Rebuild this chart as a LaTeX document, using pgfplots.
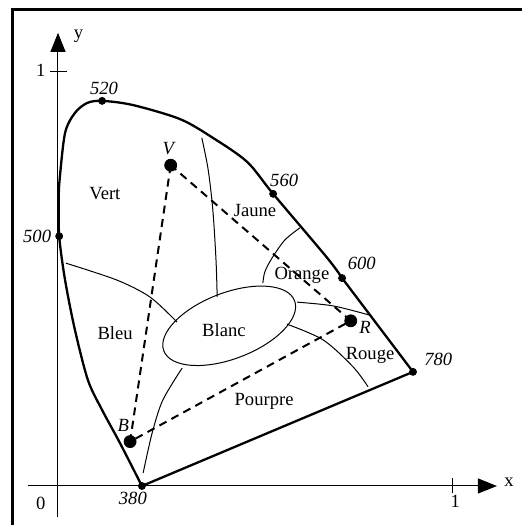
\documentclass[border=0pt]{standalone}
\usepackage{pgfplots}
\pgfplotsset{compat=1.18}
\usepackage{fontspec}
\setmainfont{Liberation Serif}
\usetikzlibrary{arrows.meta, shapes.geometric}

\begin{document}
\begin{tikzpicture}
\begin{axis}[
  scale only axis,
  width=260.5pt, height=262.5pt,
  xmin=-0.1472, xmax=1.1751,
  ymin=-0.0940, ymax=1.1711,
  hide axis, clip=false,
  font=\fontsize{9.3}{11}\selectfont,
]
  \coordinate (bl) at (rel axis cs:0,0);
  \coordinate (tr) at (rel axis cs:1,1);

  % frame (only left and top edges are inside the picture)
  \draw[line width=1.5pt] (axis cs:-0.1155,-0.2) -- (axis cs:-0.1155,1.1477) -- (axis cs:1.3,1.1477);

  % axes
  \draw[line width=0.5pt, -{Triangle[length=9.5pt, width=7.5pt]}]
    (axis cs:-0.076,0) -- (axis cs:1.114,0);
  \draw[line width=0.5pt, -{Triangle[length=9.5pt, width=7.5pt]}]
    (axis cs:0,-0.075) -- (axis cs:0,1.092);
  \draw[line width=0.5pt] (axis cs:1,-0.017) -- (axis cs:1,0.019);
  \draw[line width=0.5pt] (axis cs:-0.020,1) -- (axis cs:0.023,1);
  \node at (axis cs:-0.044,-0.042) {0};
  \node at (axis cs:1.008,-0.038) {1};
  \node at (axis cs:-0.044,1.001) {1};
  \node at (axis cs:1.145,0.010) {x};
  \node at (axis cs:0.052,1.083) {y};

  % spectral locus
  \addplot[line width=1.15pt, smooth, tension=0.5] coordinates {
    (0.213,0.000) (0.157,0.104) (0.112,0.183) (0.076,0.255) (0.043,0.376)
    (0.018,0.496) (0.003,0.602) (0.002,0.689) (0.004,0.737) (0.018,0.851)
    (0.043,0.899) (0.074,0.923) (0.112,0.928) (0.190,0.918) (0.310,0.884)
    (0.393,0.839) (0.480,0.781) (0.546,0.704) (0.683,0.550) (0.721,0.501)
  };
  \addplot[line width=1.15pt] coordinates {
    (0.721,0.501) (0.901,0.275) (0.213,0.000)
  };

  % region boundaries
  \addplot[line width=0.5pt, smooth] coordinates {
    (0.020,0.537) (0.150,0.496) (0.234,0.455) (0.302,0.395)
  };
  \addplot[line width=0.5pt, smooth] coordinates {
    (0.365,0.839) (0.381,0.763) (0.393,0.665) (0.401,0.545) (0.404,0.456)
  };
  \addplot[line width=0.5pt, smooth] coordinates {
    (0.614,0.622) (0.576,0.593) (0.543,0.549) (0.525,0.516) (0.520,0.489)
  };
  \addplot[line width=0.5pt, smooth] coordinates {
    (0.607,0.443) (0.698,0.434) (0.790,0.412)
  };
  \addplot[line width=0.5pt, smooth] coordinates {
    (0.581,0.390) (0.673,0.352) (0.749,0.287) (0.787,0.239)
  };
  \addplot[line width=0.5pt, smooth] coordinates {
    (0.315,0.284) (0.266,0.207) (0.239,0.128) (0.216,0.031)
  };

  % white region
  \node[draw, ellipse, line width=0.5pt, inner sep=0pt,
        minimum width=70pt, minimum height=33pt, rotate=21]
    at (axis cs:0.4345,0.386) {};

  % primaries triangle
  \addplot[line width=1pt, dash pattern=on 4pt off 2.8pt] coordinates {
    (0.286,0.773) (0.183,0.107) (0.743,0.398) (0.286,0.773)
  };

  % marks
  \addplot[only marks, mark=*, mark size=1.75pt] coordinates {
    (0.213,0.000) (0.003,0.602) (0.112,0.928) (0.546,0.704) (0.721,0.501) (0.901,0.275)
  };
  \addplot[only marks, mark=*, mark size=3pt] coordinates {
    (0.286,0.773) (0.183,0.107) (0.743,0.398)
  };

  % wavelength labels
  \node at (axis cs:0.117,0.959) {\itshape 520};
  \node at (axis cs:0.574,0.737) {\itshape 560};
  \node at (axis cs:0.771,0.537) {\itshape 600};
  \node at (axis cs:0.965,0.305) {\itshape 780};
  \node at (axis cs:-0.053,0.602) {\itshape 500};
  \node at (axis cs:0.190,-0.030) {\itshape 380};
  \node at (axis cs:0.280,0.812) {\itshape V};
  \node at (axis cs:0.166,0.145) {\itshape B};
  \node at (axis cs:0.779,0.381) {\itshape R};

  % region names
  \node at (axis cs:0.119,0.704) {Vert};
  \node at (axis cs:0.500,0.665) {Jaune};
  \node at (axis cs:0.619,0.508) {Orange};
  \node at (axis cs:0.792,0.314) {Rouge};
  \node at (axis cs:0.145,0.368) {Bleu};
  \node at (axis cs:0.421,0.376) {Blanc};
  \node at (axis cs:0.523,0.203) {Pourpre};
\end{axis}
\pgfresetboundingbox
\path[use as bounding box] (bl) rectangle (tr);
\end{tikzpicture}
\end{document}
